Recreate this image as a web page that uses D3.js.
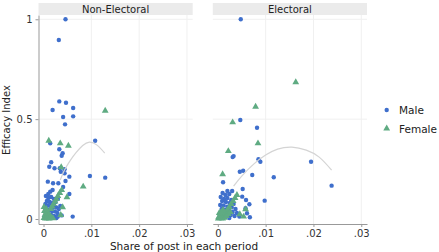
<!DOCTYPE html>
<html>
<head>
<meta charset="utf-8">
<script src="https://cdn.jsdelivr.net/npm/d3@7"></script>
<style>
  body { margin: 0; background: #fff; }
  svg { display: block; font-family: "DejaVu Sans", Verdana, sans-serif; }
</style>
</head>
<body>
<svg id="chart" width="439" height="252"></svg>
<script>
// panels, ticks and legend
var panels = ['Non-Electoral', 'Electoral'];
var xTicks = [0, 0.01, 0.02, 0.03];
var xTickLabels = ['0', '.01', '.02', '.03'];
var yTicks = [0, 0.5, 1];
var yTickLabels = ['0', '0.5', '1'];
var groups = ['Male', 'Female'];

// Non-Electoral, male [share, efficacy]
var nonElecMale = [
  [0.0046,1.0],[0.0032,0.896],[0.0033,0.589],[0.0047,0.582],[0.0019,0.546],[0.0062,0.556],
  [0.0041,0.511],[0.0062,0.514],[0.0045,0.474],[0.0014,0.379],[0.0108,0.392],[0.0033,0.349],
  [0.0040,0.329],[0.0038,0.317],[0.0016,0.284],[0.0012,0.262],[0.0023,0.254],[0.0034,0.254],
  [0.0044,0.249],[0.0036,0.237],[0.0044,0.229],[0.0097,0.215],[0.0129,0.207],[0.0054,0.212],
  [0.0046,0.190],[0.0009,0.187],[0.0020,0.179],[0.0031,0.179],[0.0041,0.160],[0.0019,0.145],
  [0.0054,0.125],[0.0014,0.137],[0.0010,0.125],[0.0035,0.065],[0.0061,0.012],
  [0.0005,0.115],[0.0010,0.105],[0.0016,0.110],[0.0022,0.100],[0.0030,0.100],[0.0007,0.090],
  [0.0013,0.085],[0.0019,0.080],[0.0025,0.085],[0.0004,0.075],[0.0009,0.068],[0.0015,0.065],
  [0.0021,0.060],[0.0027,0.058],[0.0032,0.050],[0.0003,0.055],[0.0008,0.048],[0.0013,0.045],
  [0.0018,0.040],[0.0024,0.038],[0.0029,0.030],[0.0006,0.030],[0.0011,0.025],[0.0016,0.020],
  [0.0022,0.015],[0.0030,0.012],[0.0038,0.018],[0.0002,0.012],[0.0027,0.005]
];
// Non-Electoral, female
var nonElecFemale = [
  [0.0129,0.542],[0.0011,0.392],[0.0035,0.379],[0.0052,0.367],[0.0037,0.259],[0.0083,0.162],
  [0.0049,0.109],[0.0040,0.059],[0.0036,0.020],
  [0.0038,0.145],[0.0034,0.130],[0.0030,0.115],[0.0027,0.100],[0.0024,0.088],[0.0021,0.075],
  [0.0018,0.062],[0.0015,0.050],
  [0.0002,0.040],[0.0005,0.030],[0.0009,0.035],[0.0003,0.020],[0.0007,0.015],[0.0011,0.020],
  [0.0014,0.010],[0.0001,0.005],[0.0004,0.002],[0.0008,0.004],[0.0012,0.002],[0.0017,0.008],
  [0.0020,0.003],[0.0006,0.050],[0.0001,0.060]
];
// Electoral, male
var elecMale = [
  [0.0048,1.0],[0.0047,0.496],[0.0082,0.457],[0.0033,0.315],[0.0031,0.310],[0.0085,0.299],
  [0.0089,0.287],[0.0195,0.287],[0.0046,0.237],[0.0053,0.242],[0.0072,0.220],[0.0117,0.209],
  [0.0011,0.184],[0.0238,0.167],[0.0052,0.150],[0.0020,0.140],[0.0030,0.140],[0.0051,0.112],
  [0.0059,0.095],[0.0098,0.092],[0.0066,0.074],[0.0058,0.054],[0.0061,0.029],[0.0067,0.009],
  [0.0010,0.130],[0.0016,0.120],[0.0024,0.125],[0.0006,0.110],[0.0013,0.100],[0.0020,0.105],
  [0.0028,0.095],[0.0009,0.090],[0.0017,0.085],[0.0025,0.080],[0.0033,0.075],[0.0005,0.070],
  [0.0012,0.068],[0.0020,0.062],[0.0029,0.058],[0.0037,0.050],[0.0008,0.050],[0.0015,0.045],
  [0.0023,0.040],[0.0031,0.035],[0.0040,0.030],[0.0011,0.030],[0.0019,0.025],[0.0027,0.020],
  [0.0035,0.015],[0.0045,0.012],[0.0004,0.020],[0.0015,0.010],[0.0024,0.005]
];
// Electoral, female
var elecFemale = [
  [0.0163,0.685],[0.0079,0.562],[0.0031,0.484],[0.0084,0.379],[0.0022,0.340],[0.0010,0.224],
  [0.0046,0.024],[0.0054,0.012],[0.0058,0.049],
  [0.0040,0.120],[0.0036,0.105],[0.0032,0.090],[0.0028,0.075],[0.0024,0.060],[0.0020,0.045],
  [0.0016,0.032],[0.0012,0.020],
  [0.0002,0.010],[0.0005,0.018],[0.0008,0.008],[0.0003,0.030],[0.0007,0.035],[0.0011,0.045],
  [0.0001,0.002],[0.0006,0.003],[0.0010,0.002],[0.0014,0.006],[0.0018,0.015],[0.0022,0.025],
  [0.0026,0.035]
];
// quadratic fit curves
var nonElecFit = [[0.0035,0.195],[0.0044,0.245],[0.0055,0.290],[0.0068,0.332],[0.0082,0.368],
  [0.0096,0.385],[0.0112,0.370],[0.0128,0.330]];
var elecFit = [[0.0033,0.165],[0.0050,0.215],[0.0075,0.275],[0.0100,0.320],[0.0125,0.350],
  [0.0155,0.360],[0.0185,0.345],[0.0212,0.310],[0.0238,0.245]];

var colMale = '#3f6fcc';
var colFemale = '#5fab82';

var svg = d3.select('#chart');
var plotTop = 15, plotBottom = 224;
var panelX = [[38.5, 192.7], [212.8, 367]];

var y = d3.scaleLinear().domain([-0.025, 1.0215]).range([plotBottom, plotTop]);
var tri = d3.symbol().type(d3.symbolTriangle).size(20);

var panelData = [
  { male: nonElecMale, female: nonElecFemale, fit: nonElecFit },
  { male: elecMale, female: elecFemale, fit: elecFit }
];

panels.forEach(function(name, i) {
  var x = d3.scaleLinear().domain([-0.00105, 0.0312]).range(panelX[i]);
  var g = svg.append('g');
  var d = panelData[i];

  // strip
  g.append('rect').attr('x', panelX[i][0]).attr('y', 3)
    .attr('width', panelX[i][1] - panelX[i][0]).attr('height', 12).attr('fill', '#ebebeb');
  g.append('text').attr('x', (panelX[i][0] + panelX[i][1]) / 2).attr('y', 12.5)
    .attr('text-anchor', 'middle').attr('font-size', 10).attr('fill', '#222').text(name);

  // grid
  g.selectAll('.gx').data(xTicks.slice(1)).enter().append('line')
    .attr('x1', t => x(t)).attr('x2', t => x(t)).attr('y1', plotTop).attr('y2', plotBottom)
    .attr('stroke', '#f0f0f0').attr('stroke-width', 1);
  g.selectAll('.gy').data(yTicks.slice(1)).enter().append('line')
    .attr('x1', panelX[i][0]).attr('x2', panelX[i][1]).attr('y1', t => y(t)).attr('y2', t => y(t))
    .attr('stroke', '#f0f0f0').attr('stroke-width', 1);

  // x axis
  var xa = g.append('g').attr('transform', 'translate(0,' + plotBottom + ')')
    .call(d3.axisBottom(x).tickValues(xTicks).tickFormat((t, k) => xTickLabels[k]).tickSize(3).tickSizeOuter(0));
  xa.select('.domain').attr('stroke', '#999');
  xa.selectAll('.tick line').attr('stroke', '#999');
  xa.selectAll('text').attr('font-size', 10).attr('fill', '#333')
    .style('font-family', '"DejaVu Sans", Verdana, sans-serif');

  if (i === 0) {
    var ya = g.append('g').attr('transform', 'translate(' + panelX[0][0] + ',0)')
      .call(d3.axisLeft(y).tickValues(yTicks).tickFormat((t, k) => yTickLabels[k]).tickSize(3).tickSizeOuter(0));
    ya.select('.domain').attr('stroke', '#999');
    ya.selectAll('.tick line').attr('stroke', '#999');
    ya.selectAll('text').attr('font-size', 10).attr('fill', '#333')
      .style('font-family', '"DejaVu Sans", Verdana, sans-serif');
  }

  // points
  g.selectAll('.m').data(d.male).enter().append('circle')
    .attr('cx', p => x(p[0])).attr('cy', p => y(p[1])).attr('r', 2.2)
    .attr('fill', colMale);
  g.selectAll('.f').data(d.female).enter().append('path')
    .attr('d', tri)
    .attr('transform', p => 'translate(' + x(p[0]) + ',' + y(p[1]) + ')')
    .attr('fill', colFemale);

  // fit line
  var line = d3.line().x(p => x(p[0])).y(p => y(p[1])).curve(d3.curveNatural);
  g.append('path').datum(d.fit).attr('d', line)
    .attr('fill', 'none').attr('stroke', '#d4d4d4').attr('stroke-width', 1.2);
});

// axis titles
svg.append('text').attr('transform', 'translate(10,120) rotate(-90)')
  .attr('text-anchor', 'middle').attr('font-size', 10).attr('fill', '#222').text('Efficacy Index');
svg.append('text').attr('x', 184).attr('y', 250)
  .attr('text-anchor', 'middle').attr('font-size', 10.5).attr('fill', '#222').text('Share of post in each period');

// legend
var leg = svg.append('g');
leg.append('circle').attr('cx', 386.7).attr('cy', 110).attr('r', 2.2).attr('fill', colMale);
leg.append('path').attr('d', tri).attr('transform', 'translate(386.7,128.5)').attr('fill', colFemale);
leg.selectAll('.lt').data(groups).enter().append('text')
  .attr('x', 399).attr('y', (t, k) => 114 + k * 18.5)
  .attr('font-size', 10.5).attr('fill', '#222').text(t => t);
</script>
</body>
</html>
